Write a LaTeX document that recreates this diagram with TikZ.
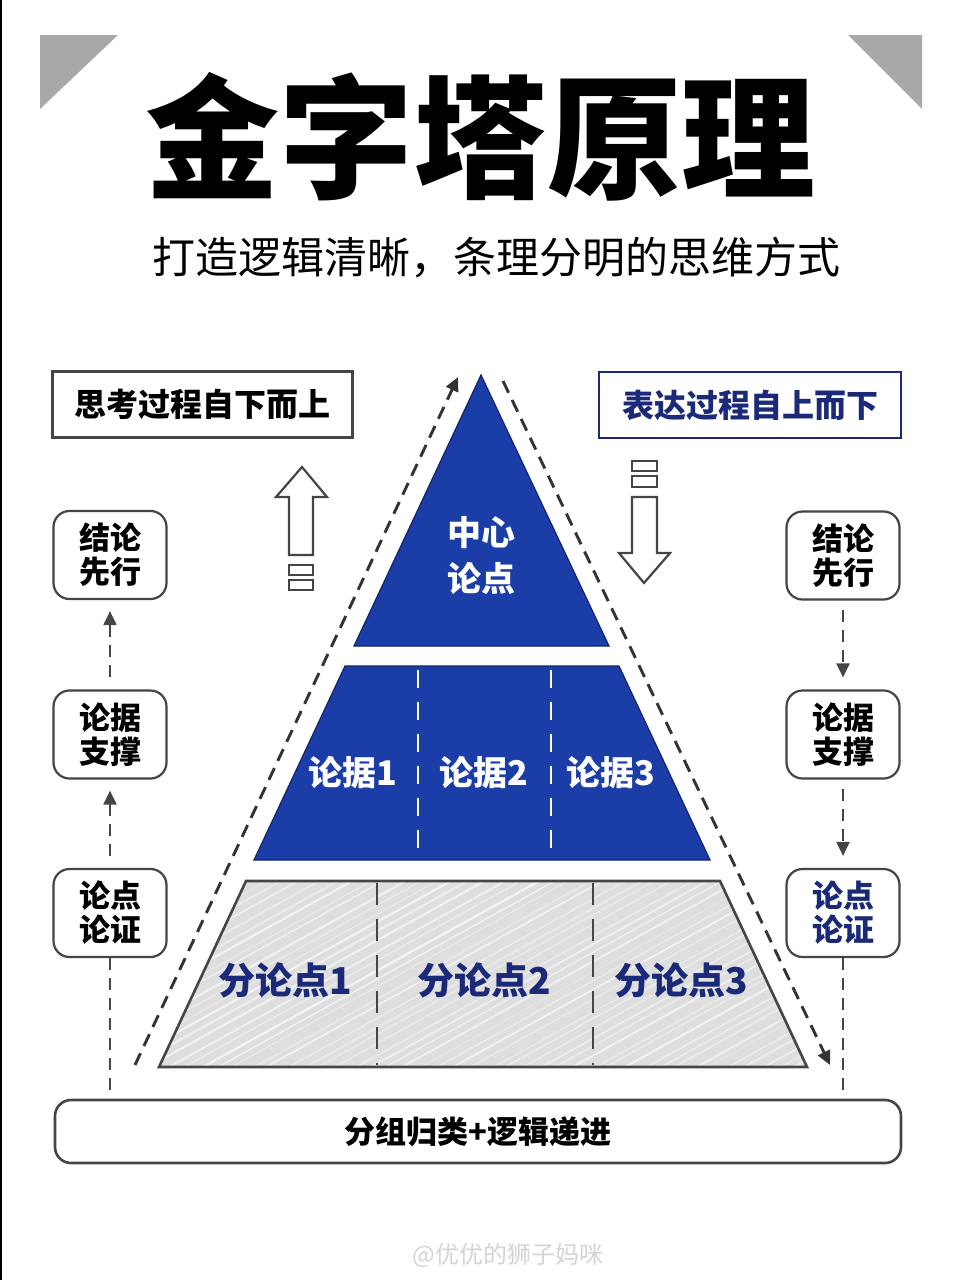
\documentclass[tikz,border=0pt]{standalone}
\usepackage{fontspec}
\setmainfont{Noto Sans CJK SC}
\usetikzlibrary{arrows.meta,shapes.geometric}
\definecolor{pblue}{HTML}{1B3DA8}
\definecolor{pnavy}{HTML}{14226A}
\definecolor{tnavy}{HTML}{1A2A78}
\definecolor{dgray}{HTML}{454545}
\definecolor{agray}{HTML}{333333}
\definecolor{cgray}{HTML}{A8A8A8}
\definecolor{lgray}{HTML}{DEDEDE}
\definecolor{wmgray}{HTML}{D4D4D4}
\begin{document}
\begin{tikzpicture}[x=1pt,y=-1pt,
  sidebox/.style={draw=dgray, line width=2.2pt, rounded corners=16pt, fill=white,
    minimum width=113pt, minimum height=88pt, inner sep=0pt, align=center,
    font=\fontsize{31}{34}\selectfont\bfseries},
  headbox/.style={draw, line width=2.4pt, fill=white, minimum width=300pt,
    minimum height=66pt, inner sep=0pt, font=\fontsize{32}{36}\selectfont\bfseries},
  vdash/.style={draw=dgray, line width=2.1pt, dash pattern=on 12pt off 8pt},
  diagdash/.style={draw=agray, line width=2.9pt, dash pattern=on 13pt off 8pt},
  tipA/.style={-{Triangle[length=14pt,width=13pt]}},
  hollow/.style={draw=dgray, line width=2.2pt, fill=white, line join=miter},
  corner/.style={fill=cgray},
  pyrtext/.style={text=white, font=\fontsize{34}{46}\selectfont\bfseries, align=center},
  lowtext/.style={text=tnavy, font=\fontsize{37}{40}\selectfont\bfseries},
]
\useasboundingbox (0,0) rectangle (960,1280);
\fill[white] (0,0) rectangle (960,1280);
\fill[black] (0,0) rectangle (1.5,1280);

% corner triangles
\fill[corner] (40,35) -- (118,35) -- (40,109) -- cycle;
\fill[corner] (848,35) -- (922,35) -- (922,109) -- cycle;

% title and subtitle
\node[font=\fontsize{134}{140}\selectfont\bfseries, inner sep=0pt] (title) at (480,137) {金字塔原理};
\node[font=\fontsize{43}{48}\selectfont, inner sep=0pt] (subtitle) at (496,258) {打造逻辑清晰，条理分明的思维方式};

% header boxes
\node[headbox, draw=dgray, text=black] (think) at (202.5,404.5) {思考过程自下而上};
\node[headbox, draw=tnavy, text=tnavy, minimum width=302pt] (express) at (750,405) {表达过程自上而下};

% hollow arrows
\draw[hollow] (289,555) -- (289,497) -- (276,497) -- (302,467) -- (327,497) -- (313,497) -- (313,555) -- cycle;
\draw[hollow] (289,565) rectangle (313,575);
\draw[hollow] (289,580) rectangle (313,590);
\draw[hollow] (632,461) rectangle (657,471);
\draw[hollow] (632,476) rectangle (657,487);
\draw[hollow] (632,497) -- (657,497) -- (657,553) -- (670,553) -- (644,583) -- (619,553) -- (632,553) -- cycle;

% pyramid
\draw[fill=pblue, draw=pnavy, line width=1.2pt, line join=miter] (481,375) -- (609,646) -- (354,646) -- cycle;
\node[pyrtext] (center) at (481,556) {中心\\论点};

\draw[fill=pblue, draw=pnavy, line width=1.2pt] (345,666) -- (619,666) -- (710,860) -- (254,860) -- cycle;
\draw[white, line width=1.6pt, dash pattern=on 18pt off 14pt] (418,670) -- (418,856);
\draw[white, line width=1.6pt, dash pattern=on 18pt off 14pt] (551,670) -- (551,856);
\node[pyrtext] (arg1) at (353,773) {论据1};
\node[pyrtext] (arg2) at (484,773) {论据2};
\node[pyrtext] (arg3) at (611,773) {论据3};

\begin{scope}
  \clip (246,881) -- (720,881) -- (807,1067) -- (159,1067) -- cycle;
  \fill[lgray] (150,870) rectangle (820,1080);
  \pgfmathsetseed{7}
  \foreach \i in {0,...,60}{
    \pgfmathsetmacro{\xx}{-200+\i*17+rnd*8}
    \pgfmathsetmacro{\ww}{0.6+rnd*1.6}
    \pgfmathsetmacro{\oo}{0.3+rnd*0.45}
    \draw[white, line width=\ww pt, opacity=\oo] (\xx,1080) -- (\xx+380,870);
  }
\end{scope}
\draw[draw=dgray, line width=2.6pt, line join=miter] (246,881) -- (720,881) -- (807,1067) -- (159,1067) -- cycle;
\draw[dgray, line width=1.8pt, dash pattern=on 22pt off 14pt] (377,883) -- (377,1065);
\draw[dgray, line width=1.8pt, dash pattern=on 22pt off 14pt] (593,883) -- (593,1065);
\node[lowtext] (sub1) at (285,980) {分论点1};
\node[lowtext] (sub2) at (484,980) {分论点2};
\node[lowtext] (sub3) at (681,980) {分论点3};

% diagonal dashed arrows
\coordinate (dl1) at (135,1065);
\coordinate (dl2) at (458,377);
\coordinate (dr1) at (503,381);
\coordinate (dr2) at (830,1065);
\draw[diagdash, tipA] (dl1) -- (dl2);
\draw[diagdash, tipA] (dr1) -- (dr2);

% side boxes
\node[sidebox, text=black] (L1) at (110,555) {结论\\先行};
\node[sidebox, text=black] (L2) at (110,734.5) {论据\\支撑};
\node[sidebox, text=black] (L3) at (110,913) {论点\\论证};
\node[sidebox, text=black] (R1) at (843,555.5) {结论\\先行};
\node[sidebox, text=black] (R2) at (843,734.5) {论据\\支撑};
\node[sidebox, text=tnavy] (R3) at (843,913) {论点\\论证};

% bottom bar
\node[draw=dgray, line width=2.6pt, rounded corners=16pt, fill=white,
  minimum width=846pt, minimum height=63pt, inner sep=0pt,
  font=\fontsize{31}{36}\selectfont\bfseries] (bar) at (478,1131.5) {分组归类+逻辑递进};

% vertical dashed connectors
\draw[vdash, tipA, shorten <=12pt, shorten >=11pt] (L2.north) -- (L1.south);
\draw[vdash, tipA, shorten <=12pt, shorten >=11pt] (L3.north) -- (L2.south);
\draw[vdash, shorten >=7pt] (L3.south) -- (L3.south |- bar.north);
\draw[vdash, tipA, shorten <=9pt, shorten >=12pt] (R1.south) -- (R2.north);
\draw[vdash, tipA, shorten <=9pt, shorten >=12pt] (R2.south) -- (R3.north);
\draw[vdash, shorten >=7pt] (R3.south) -- (R3.south |- bar.north);

% watermark
\node[text=wmgray, font=\fontsize{24}{28}\selectfont] (wm) at (508,1255) {@优优的狮子妈咪};
\end{tikzpicture}
\end{document}
